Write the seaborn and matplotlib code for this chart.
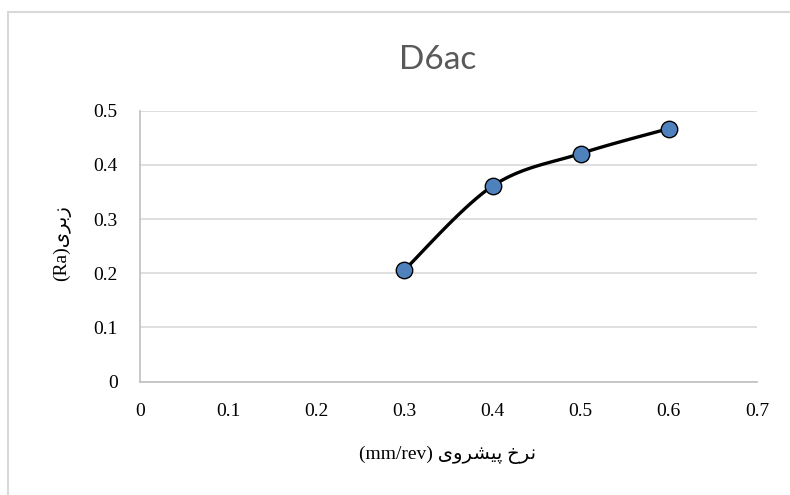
import numpy as np
import pandas as pd
import matplotlib
matplotlib.use("Agg")
import matplotlib.pyplot as plt
import seaborn as sns
from matplotlib.patches import Rectangle

# ---- data ----
feed = [0.3, 0.4, 0.5, 0.6]
roughness = [0.206, 0.361, 0.421, 0.467]
x_ticks = [0, 0.1, 0.2, 0.3, 0.4, 0.5, 0.6, 0.7]
y_ticks = [0, 0.1, 0.2, 0.3, 0.4, 0.5]
title = "D6ac"
# Persian labels in visual (pre-shaped, left-to-right) order
x_label = "(mm/rev) \uFBFC\uFEED\uFEAE\uFEB8\uFBFF\uFB58 \uFEA5\uFEAE\uFEE7"   # نرخ پیشروی (mm/rev)
y_label = "(Ra)\uFBFC\uFEAE\uFE91\uFEAF"   # زبری(Ra)

df = pd.DataFrame({"feed": feed, "Ra": roughness})

sns.set_theme(style="white")
plt.rcParams["font.family"] = ["Liberation Serif", "DejaVu Sans"]

fig = plt.figure(figsize=(7.9, 4.95), dpi=100)
ax = fig.add_axes([140/790, 1-381.6/495, (757-140)/790, (381.6-110.7)/495])

# Excel-style smoothed line (cubic Bezier through points)
def smooth(xs, ys, n=40):
    P = np.column_stack([xs, ys]).astype(float)
    out = []
    for i in range(len(P)-1):
        p0 = P[i-1] if i > 0 else P[i]
        p1, p2 = P[i], P[i+1]
        p3 = P[i+2] if i+2 < len(P) else P[i+1]
        c1 = p1 + (p2 - p0) / 6.0
        c2 = p2 - (p3 - p1) / 6.0
        t = np.linspace(0, 1, n)[:, None]
        seg = (1-t)**3*p1 + 3*(1-t)**2*t*c1 + 3*(1-t)*t**2*c2 + t**3*p2
        out.append(seg if i == 0 else seg[1:])
    s = np.vstack(out)
    return s[:, 0], s[:, 1]

sx, sy = smooth(feed, roughness)
sns.lineplot(x=sx, y=sy, ax=ax, color="black", linewidth=2.4, sort=False, zorder=3)
sns.scatterplot(data=df, x="feed", y="Ra", ax=ax, s=140, color="#4F81BD",
                edgecolor="black", linewidth=1.0, zorder=4)

ax.set_xlim(0, 0.7)
ax.set_ylim(0, 0.5)
ax.set_xticks(x_ticks)
ax.set_yticks(y_ticks)
ax.set_xticklabels([f"{v:g}" for v in x_ticks])
ax.set_yticklabels([f"{v:g}" for v in y_ticks])
ax.tick_params(axis="both", length=0, labelsize=14, colors="black")
ax.tick_params(axis="x", pad=15.5)
ax.tick_params(axis="y", pad=16)
ax.yaxis.grid(True, color="#D9D9D9", linewidth=1.2)
ax.xaxis.grid(False)
for side in ["top", "right"]:
    ax.spines[side].set_visible(False)
for side in ["left", "bottom"]:
    ax.spines[side].set_color("#BFBFBF")
    ax.spines[side].set_linewidth(1.2)

ax.set_xlabel(x_label, fontsize=14, color="black")
ax.set_ylabel(y_label, fontsize=14, color="black")
ax.xaxis.label.set_va("center")
ax.yaxis.label.set_va("center")
ax.xaxis.set_label_coords((448-140)/617, (381.6-455)/270.9)
ax.yaxis.set_label_coords((62-140)/617, (381.6-243)/270.9)

fig.text(438/790, 1-60/495, title, ha="center", va="center", fontsize=24,
         color="#595959", family=["Lato", "DejaVu Sans"])

fig.patches.append(Rectangle((8/790, -0.1), 1.0, 1-12/495+0.1, transform=fig.transFigure,
                             fill=False, edgecolor="#D9D9D9", linewidth=1.5))

fig.savefig("out.png", dpi=100)
